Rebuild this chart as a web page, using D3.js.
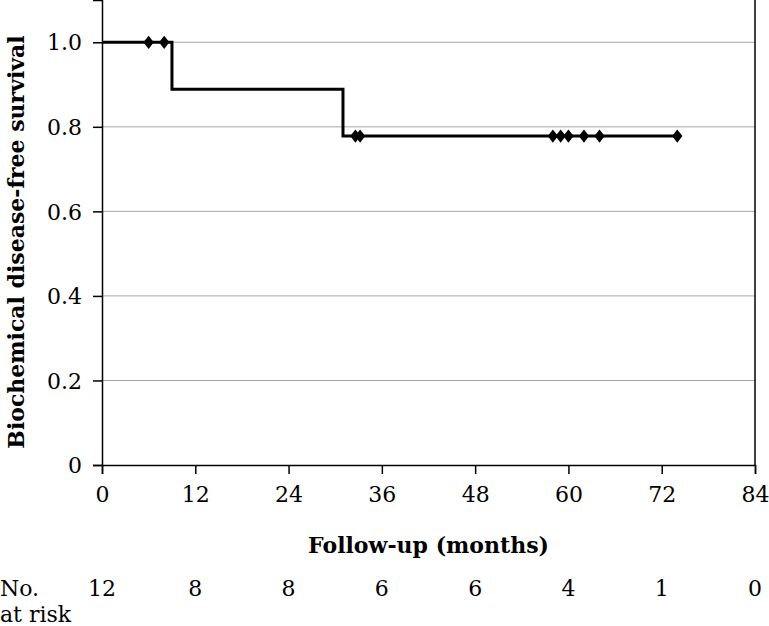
<!DOCTYPE html>
<html>
<head>
<meta charset="utf-8">
<script src="https://cdn.jsdelivr.net/npm/d3@7"></script>
<style>
  body { margin: 0; background: #fff; }
  text { font-family: "DejaVu Serif", serif; fill: #000; }
</style>
</head>
<body>
<svg id="chart" width="769" height="626"></svg>
<script>
// Kaplan-Meier step curve (months, survival)
var stepTimes = [0, 9, 31, 74];
var stepSurv = [1.0, 0.889, 0.778, 0.778];
// censored observations
var censorTimes = [6, 8, 32.6, 33.2, 58, 59, 60, 62, 64, 74];
var censorSurv = [1.0, 1.0, 0.778, 0.778, 0.778, 0.778, 0.778, 0.778, 0.778, 0.778];
var xTicks = [0, 12, 24, 36, 48, 60, 72, 84];
var yTicks = [0, 0.2, 0.4, 0.6, 0.8, 1.0];
var atRisk = [12, 8, 8, 6, 6, 4, 1, 0];

var margin = { left: 102, right: 14, top: 0, bottom: 161 };
var width = 769, height = 626;

var svg = d3.select('#chart');

var x = d3.scaleLinear().domain([0, 84]).range([margin.left, width - margin.right]);
var y = d3.scaleLinear().domain([0, 1.1]).range([height - margin.bottom, margin.top]);

// gridlines
svg.append('g')
    .selectAll('line')
    .data(yTicks.filter(function (d) { return d > 0; }))
    .enter().append('line')
    .attr('x1', x(0)).attr('x2', x(84))
    .attr('y1', function (d) { return y(d); })
    .attr('y2', function (d) { return y(d); })
    .attr('stroke', '#a6a6a6')
    .attr('stroke-width', 1);

// right frame
svg.append('line')
    .attr('x1', x(84)).attr('x2', x(84))
    .attr('y1', y(0)).attr('y2', y(1.1))
    .attr('stroke', '#000').attr('stroke-width', 1.5);

// axes
var xAxis = svg.append('g')
    .attr('transform', 'translate(0,' + y(0) + ')')
    .call(d3.axisBottom(x).tickValues(xTicks).tickSize(9).tickPadding(12));
var yAxis = svg.append('g')
    .attr('transform', 'translate(' + x(0) + ',0)')
    .call(d3.axisLeft(y).tickValues(yTicks).tickSize(9).tickPadding(11)
        .tickFormat(function (d) { return d === 0 ? '0' : d3.format('.1f')(d); }));

[xAxis, yAxis].forEach(function (g) {
    g.select('.domain').attr('stroke', '#000').attr('stroke-width', 1.5);
    g.selectAll('.tick line').attr('stroke', '#000').attr('stroke-width', 1.5);
    g.selectAll('.tick text')
        .attr('font-family', 'DejaVu Serif')
        .attr('font-size', 22)
        .attr('fill', '#000');
});
yAxis.selectAll('.tick text').attr('dy', '0.35em');

// step line
var stepData = stepTimes.map(function (t, i) { return [t, stepSurv[i]]; });
var line = d3.line()
    .x(function (d) { return x(d[0]); })
    .y(function (d) { return y(d[1]); })
    .curve(d3.curveStepAfter);

svg.append('path')
    .datum(stepData)
    .attr('d', line)
    .attr('fill', 'none')
    .attr('stroke', '#000')
    .attr('stroke-width', 3);

// censor marks
var diamond = d3.symbol().type(d3.symbolDiamond).size(70);
svg.append('g')
    .selectAll('path')
    .data(censorTimes)
    .enter().append('path')
    .attr('d', diamond)
    .attr('transform', function (d, i) {
        return 'translate(' + x(d) + ',' + y(censorSurv[i]) + ') scale(1.15,0.85)';
    })
    .attr('fill', '#000');

// axis titles
svg.append('text')
    .attr('x', (x(0) + x(84)) / 2)
    .attr('y', 553)
    .attr('text-anchor', 'middle')
    .attr('font-size', 22)
    .attr('font-weight', 'bold')
    .text('Follow-up (months)');

svg.append('text')
    .attr('transform', 'translate(24,' + 242 + ') rotate(-90)')
    .attr('text-anchor', 'middle')
    .attr('font-size', 22)
    .attr('font-weight', 'bold')
    .text('Biochemical disease-free survival');

// number at risk
svg.append('text').attr('x', 0).attr('y', 596).attr('font-size', 22).text('No.');
svg.append('text').attr('x', 0).attr('y', 622).attr('font-size', 22).text('at risk');

svg.append('g')
    .selectAll('text')
    .data(atRisk)
    .enter().append('text')
    .attr('x', function (d, i) { return x(xTicks[i]); })
    .attr('y', 596)
    .attr('text-anchor', 'middle')
    .attr('font-size', 22)
    .text(function (d) { return d; });
</script>
</body>
</html>
